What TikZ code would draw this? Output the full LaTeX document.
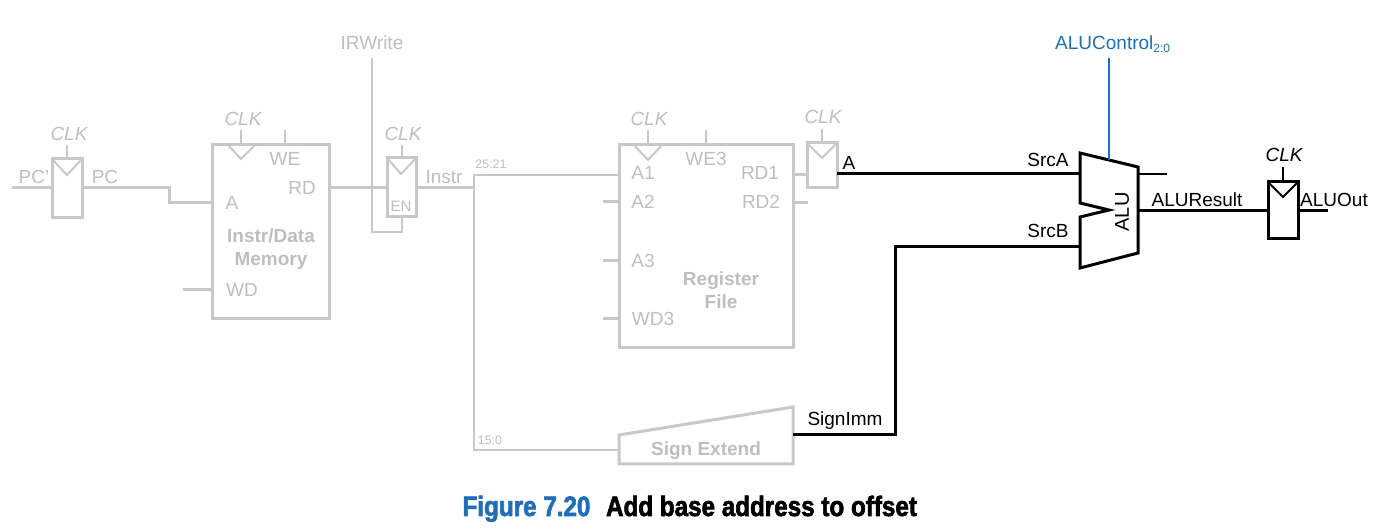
\documentclass[tikz,border=0pt]{standalone}
\usepackage{fontspec}
\setmainfont{Liberation Sans}
\newfontfamily\capfont[FakeStretch=0.865,FakeBold=2.2]{Liberation Sans Bold}
\usetikzlibrary{calc}
\definecolor{fadedgray}{RGB}{200,200,200}
\definecolor{fadedtext}{RGB}{190,190,190}
\definecolor{ctrlblue}{RGB}{30,110,185}
\tikzset{
  pintext/.style={inner sep=0pt,font=\fontsize{14.25}{16}\selectfont},
  fadedlabel/.style={pintext,text=fadedtext},
  clklabel/.style={fadedlabel,font=\fontsize{14.25}{16}\selectfont\itshape},
  blocklabel/.style={fadedlabel,align=center,font=\fontsize{14.25}{17.25}\selectfont\bfseries},
  bitslabel/.style={inner sep=0pt,text=fadedtext,font=\fontsize{9.3}{11}\selectfont},
  fadedbox/.style={draw=fadedgray,line width=2.25pt,inner sep=0pt,outer sep=0pt,anchor=north west},
  fadedwire/.style={draw=fadedgray,line width=2.25pt},
  thinfaded/.style={draw=fadedgray,line width=1.5pt},
  hotbox/.style={draw=black,line width=2.25pt,inner sep=0pt,outer sep=0pt,anchor=north west},
  hotwire/.style={draw=black,line width=2.25pt},
  caplabel/.style={inner sep=0pt,anchor=base,font=\capfont\fontsize{21}{24}\selectfont},
}
\begin{document}
\begin{tikzpicture}[x=0.75pt,y=0.75pt,yscale=-1,xscale=1]
\useasboundingbox (0,0) rectangle (1385,530);

%Shape: Rectangle
\node[fadedbox,minimum width=22.5pt,minimum height=44.25pt] (pcreg) at (52,159) {};
\node[fadedbox,minimum width=87.75pt,minimum height=130.5pt] (mem) at (212,145) {};
\node[fadedbox,minimum width=21.75pt,minimum height=44.25pt] (enreg) at (387,158) {};
\node[fadedbox,minimum width=130.5pt,minimum height=152.25pt] (rf) at (619,145) {};
\node[fadedbox,minimum width=22.5pt,minimum height=33.75pt] (areg) at (807,143) {};
\node[hotbox,minimum width=22.5pt,minimum height=42.75pt] (outreg) at (1268,182) {};

%Clock triangles
\draw[thinfaded] (pcreg.north west) -- (67,175) -- (pcreg.north east);
\draw[thinfaded] (228,145) -- (241,159) -- (255,145);
\draw[thinfaded] (enreg.north west) -- (401,174) -- (enreg.north east);
\draw[thinfaded] (634,145) -- (648,160) -- (662,145);
\draw[thinfaded] (areg.north west) -- (822,158) -- (areg.north east);
\draw[line width=1.5pt] (outreg.north west) -- (1283,197) -- (outreg.north east);

%Sign extend
\draw[fadedwire,line join=miter] (619,435) -- (793,407) -- (793,464) -- (619,464) -- cycle;
\coordinate (sxin) at (619,450);
\coordinate (sxout) at (793,435);

%ALU
\draw[hotwire,line join=miter] (1080,153) -- (1138,167) -- (1138,253) -- (1080,268) -- (1080,217) -- (1109,210) -- (1080,203) -- cycle;
\coordinate (alua) at (1080,174);
\coordinate (alub) at (1080,247);
\coordinate (aluctl) at (1109,160);
\coordinate (aluout) at (1138,211);
\coordinate (aluz) at (1138,174);

%Free ends and bends
\coordinate (pcin) at (12,188);
\coordinate (membend) at (169,188);
\coordinate (memin) at (212,203);
\coordinate (wdin) at (183,290);
\coordinate (irtop) at (372,58);
\coordinate (irbot) at (372,232);
\coordinate (instrjoin) at (474,188);
\coordinate (splita) at (474,175);
\coordinate (splitb) at (474,450);
\coordinate (srcbend) at (895,247);
\coordinate (ctltop) at (1109,58);
\coordinate (zend) at (1167,174);
\coordinate (outend) at (1328,211);

%Faded wires
\draw[fadedwire] (pcin) -- (pcin -| pcreg.west);
\draw[fadedwire] (pcin -| pcreg.east) -- (membend) -- (membend |- memin) -- (memin);
\draw[fadedwire] (wdin) -- (wdin -| mem.west);
\draw[fadedwire] (mem.east |- pcin) -- (enreg.west |- pcin);
\draw[thinfaded] (irtop) -- (irbot) -- (irbot -| enreg.south) -- (enreg.south);
\draw[fadedwire] (enreg.east |- pcin) -- (instrjoin);
\draw[thinfaded,line width=1.9pt] (rf.west |- splita) -- (splita) -- (splitb) -- (sxin);
\draw[fadedwire] (603,202) -- (619,202);
\draw[fadedwire] (603,261) -- (619,261);
\draw[fadedwire] (603,319) -- (619,319);
\draw[fadedwire] (rf.east |- splita) -- (areg.west |- splita);
\draw[fadedwire] (793,203) -- (808,203);

%Clock and enable stubs
\draw[thinfaded] (pcreg.north) -- ++(0,-14);
\draw[thinfaded] (241,145) -- (241,130);
\draw[thinfaded] (285,145) -- (285,130);
\draw[thinfaded] (enreg.north) -- ++(0,-13);
\draw[thinfaded] (648,145) -- (648,130);
\draw[thinfaded] (706,145) -- (706,130);
\draw[thinfaded] (areg.north) -- ++(0,-14);
\draw[line width=1.5pt] (outreg.north) -- ++(0,-15);

%Active wires
\draw[hotwire] (areg.east |- alua) -- (alua);
\draw[hotwire] (sxout) -- (sxout -| srcbend) -- (srcbend) -- (alub);
\draw[ctrlblue,line width=2.1pt] (ctltop) -- (aluctl);
\draw[line width=1.5pt] (aluz) -- (zend);
\draw[hotwire] (aluout) -- (outreg.west |- aluout);
\draw[hotwire] (outreg.east |- aluout) -- (outend);

% Text Node
\node[fadedlabel] (pcinlabel) at (34,177) {PC'};
\node[clklabel] (pcclk) at (69,134) {CLK};
\node[fadedlabel] (pclabel) at (105,177) {PC};
\node[clklabel] (memclk) at (243,119) {CLK};
\node[fadedlabel] (welabel) at (285,159) {WE};
\node[fadedlabel] (rdlabel) at (302,188) {RD};
\node[fadedlabel] (alabel) at (232,203) {A};
\node[blocklabel] (memlabel) at (271,249) {Instr/Data\\Memory};
\node[fadedlabel] (wdlabel) at (242,290) {WD};
\node[fadedlabel] (irlabel) at (372,43) {IRWrite};
\node[clklabel] (enclk) at (403,134) {CLK};
\node[inner sep=0pt,text=fadedtext,font=\fontsize{11.3}{13}\selectfont] (enlabel) at (401,206) {EN};
\node[fadedlabel] (instrlabel) at (444,177) {Instr};
\node[bitslabel] (bitsa) at (491,164) {25:21};
\node[bitslabel] (bitsb) at (490,440) {15:0};
\node[clklabel] (rfclk) at (649,119) {CLK};
\node[fadedlabel] (we3label) at (706,159) {WE3};
\node[fadedlabel] (a1label) at (643,173) {A1};
\node[fadedlabel] (a2label) at (643,202) {A2};
\node[fadedlabel] (a3label) at (643,261) {A3};
\node[fadedlabel] (wd3label) at (653,319) {WD3};
\node[fadedlabel] (rd1label) at (760,173) {RD1};
\node[fadedlabel] (rd2label) at (761,202) {RD2};
\node[blocklabel] (rflabel) at (721,290) {Register\\File};
\node[clklabel] (aclk) at (823,117) {CLK};
\node[pintext] (aoutlabel) at (849,163) {A};
\node[blocklabel] (sxlabel) at (706,451) {Sign Extend};
\node[pintext] (sximm) at (845,421) {SignImm};
\node[pintext,text=ctrlblue] (ctllabel) at (1113,44) {ALUControl\textsubscript{\fontsize{9}{9}\selectfont 2:0}};
\node[pintext] (srcalabel) at (1048,160) {SrcA};
\node[pintext] (srcblabel) at (1048,231) {SrcB};
\node[pintext,rotate=90,font=\fontsize{15}{16}\selectfont] (alulabel) at (1122,212) {ALU};
\node[pintext] (resultlabel) at (1197,200) {ALUResult};
\node[pintext,font=\fontsize{14.25}{16}\selectfont\itshape] (outclk) at (1284,155) {CLK};
\node[pintext] (outlabel) at (1334,200) {ALUOut};
\node[caplabel,text=ctrlblue] (figlabel) at (526.5,516) {Figure 7.20};
\node[caplabel] (captext) at (761.5,516) {Add base address to offset};

\end{tikzpicture}
\end{document}
